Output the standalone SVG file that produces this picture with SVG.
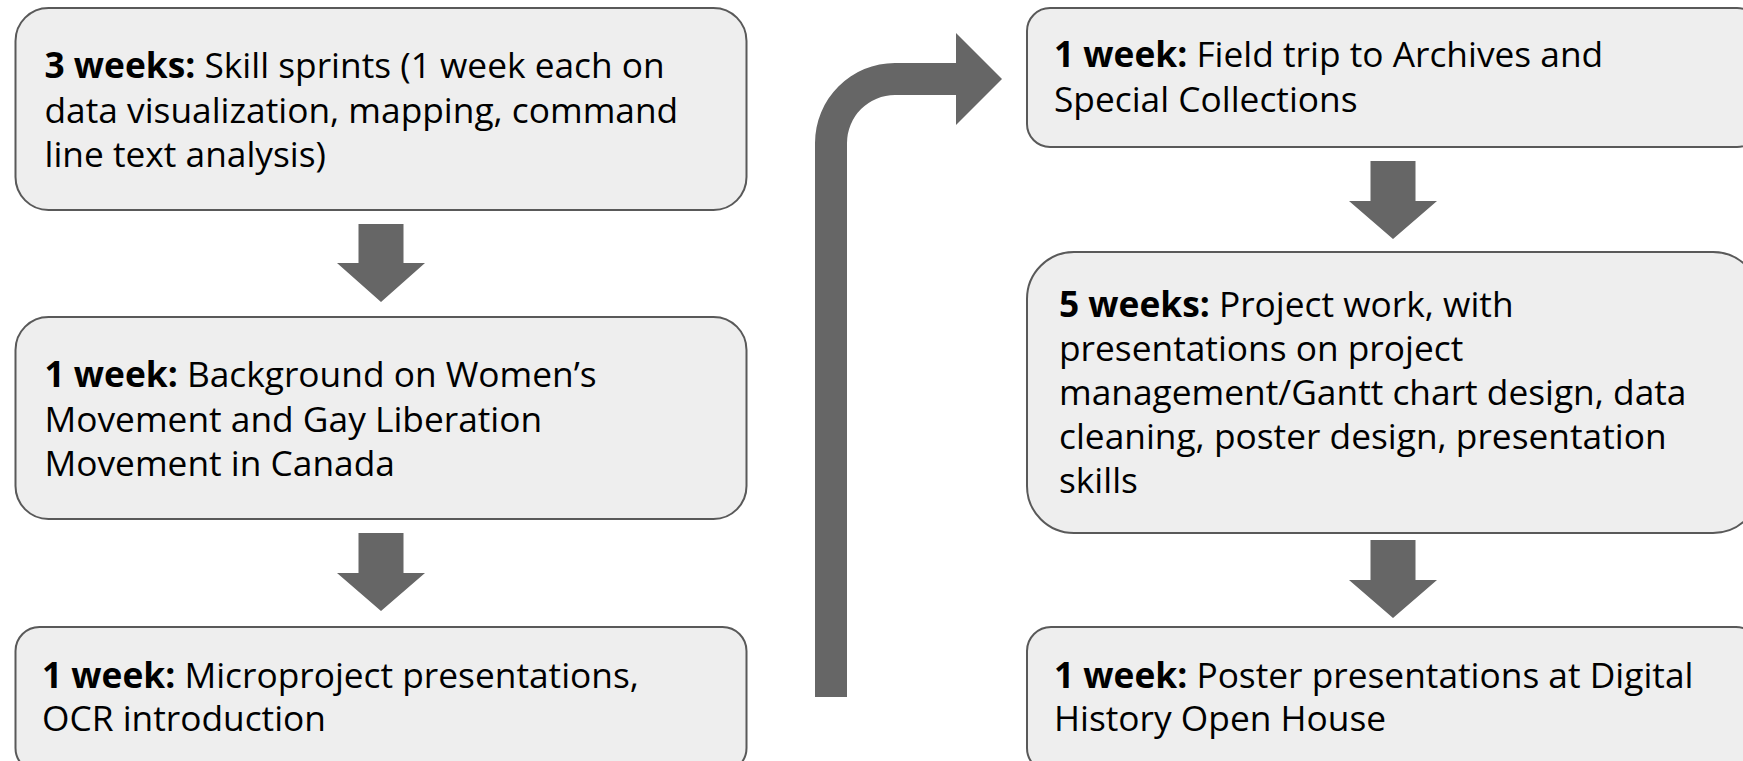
<svg xmlns="http://www.w3.org/2000/svg" width="1743" height="761" viewBox="0 0 1743 761">
<style>
.box{fill:#eeeeee;stroke:#595959;stroke-width:2}
.arr{fill:#666666}
text{font-family:"Open Sans","Liberation Sans",sans-serif;font-size:35.3px;fill:#000000;font-variant-ligatures:none}
.b{font-weight:bold}
</style>
<rect width="1743" height="761" fill="#ffffff"/>
<g id="connectors">
<path class="arr" d="M358.5,224 H403.5 V263 H425 L381,302 L337,263 H358.5 Z"/>
<path class="arr" d="M358.5,533 H403.5 V573 H425 L381,611 L337,573 H358.5 Z"/>
<path class="arr" d="M1370.5,161 H1415.5 V201 H1437 L1393,239 L1349,201 H1370.5 Z"/>
<path class="arr" d="M1370.5,540 H1415.5 V580 H1437 L1393,618 L1349,580 H1370.5 Z"/>
<path class="arr" d="M815,697 L815,143 A80,80 0 0 1 895,63 L956,63 L956,33 L1002,79 L956,125 L956,95 L895,95 A48,48 0 0 0 847,143 L847,697 Z"/>
</g>
<g id="node1">
<rect class="box" x="15.5" y="8" width="731" height="202" rx="33"/>
<text x="44.5" y="78.3"><tspan class="b">3 weeks:</tspan> Skill sprints (1 week each on</text>
<text x="44.5" y="122.7">data visualization, mapping, command</text>
<text x="44.5" y="167">line text analysis)</text>
</g>
<g id="node2">
<rect class="box" x="15.5" y="317" width="731" height="202" rx="33"/>
<text x="44.5" y="387"><tspan class="b">1 week:</tspan> Background on Women’s</text>
<text x="44.5" y="431.5">Movement and Gay Liberation</text>
<text x="44.5" y="476">Movement in Canada</text>
</g>
<g id="node3">
<rect class="box" x="15.5" y="627" width="731" height="145" rx="24"/>
<text x="42" y="687.5"><tspan class="b">1 week:</tspan> Microproject presentations,</text>
<text x="42" y="731">OCR introduction</text>
</g>
<g id="node4">
<rect class="box" x="1027" y="8" width="733" height="139" rx="23"/>
<text x="1054" y="67"><tspan class="b">1 week:</tspan> Field trip to Archives and</text>
<text x="1054" y="111.5">Special Collections</text>
</g>
<g id="node5">
<rect class="box" x="1027" y="252" width="733" height="281" rx="47"/>
<text x="1059" y="316.5"><tspan class="b">5 weeks:</tspan> Project work, with</text>
<text x="1059" y="360.5">presentations on project</text>
<text x="1059" y="405">management/Gantt chart design, data</text>
<text x="1059" y="448.5">cleaning, poster design, presentation</text>
<text x="1059" y="493">skills</text>
</g>
<g id="node6">
<rect class="box" x="1027" y="627" width="733" height="145" rx="24"/>
<text x="1054" y="687.5"><tspan class="b">1 week:</tspan> Poster presentations at Digital</text>
<text x="1054" y="731">History Open House</text>
</g>
</svg>
